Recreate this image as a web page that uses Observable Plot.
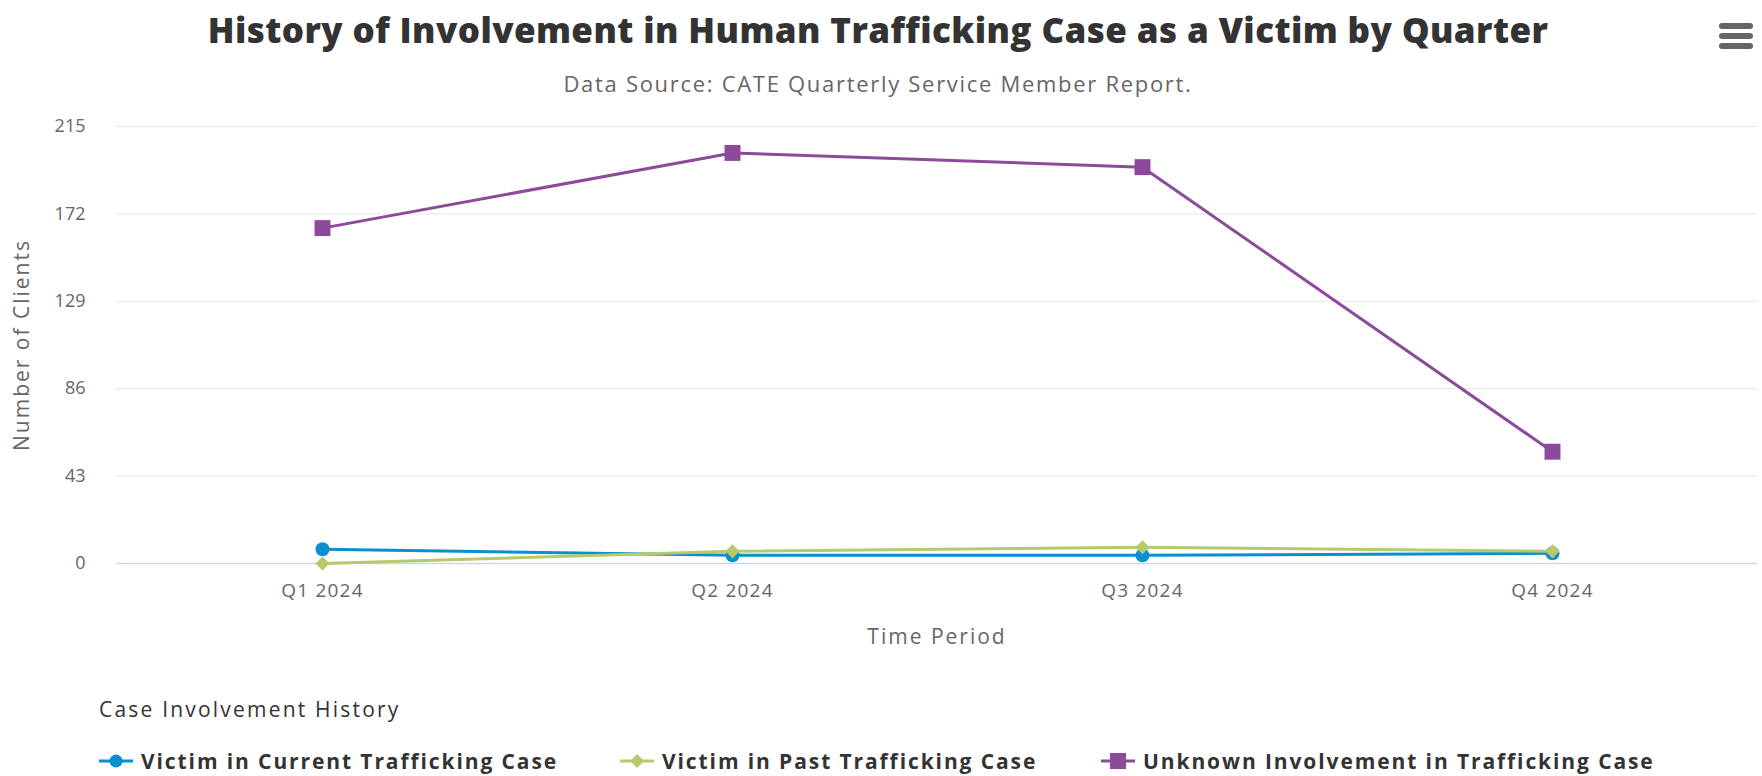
<!DOCTYPE html>
<html>
<head>
<meta charset="utf-8">
<script src="https://cdn.jsdelivr.net/npm/d3@7"></script>
<script src="https://cdn.jsdelivr.net/npm/@observablehq/plot@0.6"></script>
<style>
  html, body { margin: 0; padding: 0; background: #fff; }
  body { width: 1762px; height: 776px; position: relative; overflow: hidden; font-family: "Open Sans", "DejaVu Sans", sans-serif; }
  #chart { position: absolute; left: 0; top: 0; }
  .abs { position: absolute; white-space: nowrap; }
  #title { left: 0; width: 1756px; top: 8px; text-align: center; font-size: 35px; font-weight: 800; color: #333; line-height: 44px; letter-spacing: 0.4px; }
  #subtitle { left: 0; width: 1756px; top: 69px; text-align: center; font-size: 22px; color: #666; line-height: 28px; letter-spacing: 1.7px; }
  #legendTitle { left: 99px; top: 695px; font-size: 21px; color: #333; line-height: 28px; letter-spacing: 2.2px; }
  .item { top: 747px; font-size: 21px; font-weight: 700; color: #333; line-height: 28px; display: flex; align-items: center; letter-spacing: 1.9px; }
  .item svg { margin-right: 8px; }
  #menu { left: 1719px; top: 23px; width: 34px; }
  #menu div { height: 6px; border-radius: 3px; background: #666; margin-bottom: 4px; }
  g[aria-label="x-axis tick label"] text { letter-spacing: 1.2px; }
  g[aria-label="text"] text { letter-spacing: 2px; }
</style>
</head>
<body>
<div id="chart"></div>
<div id="title" class="abs">History of Involvement in Human Trafficking Case as a Victim by Quarter</div>
<div id="subtitle" class="abs">Data Source: CATE Quarterly Service Member Report.</div>
<div id="menu" class="abs"><div></div><div></div><div></div></div>
<div id="legendTitle" class="abs">Case Involvement History</div>
<div id="legend"></div>
<script>
const quarters = ["Q1 2024", "Q2 2024", "Q3 2024", "Q4 2024"];
const seriesNames = ["Victim in Current Trafficking Case", "Victim in Past Trafficking Case", "Unknown Involvement in Trafficking Case"];
const currentCase = [7, 4, 4, 5];
const pastCase = [0, 6, 8, 6];
const unknownCase = [165, 202, 195, 55];
const yTicks = [0, 43, 86, 129, 172, 215];
const colors = ["#0a8fd0", "#b6ca6b", "#8d4a9b"];
const symbols = ["circle", "diamond2", "square"];

const seriesValues = [currentCase, pastCase, unknownCase];
const data = [];
seriesNames.forEach((s, i) => quarters.forEach((q, j) => data.push({series: s, quarter: q, value: seriesValues[i][j]})));

const seriesMarks = [];
const radii = [7, 6.4, 9];
seriesNames.forEach((s, i) => {
  const rows = data.filter(d => d.series === s);
  seriesMarks.push(Plot.line(rows, {x: "quarter", y: "value", stroke: "series", strokeWidth: 3}));
  seriesMarks.push(Plot.dot(rows, {x: "quarter", y: "value", fill: "series", symbol: () => symbols[i], r: radii[i], stroke: "none"}));
});

const chart = Plot.plot({
  width: 1762,
  height: 660,
  marginTop: 126,
  marginBottom: 97,
  marginLeft: 116,
  marginRight: 5,
  style: {fontFamily: "'Open Sans', 'DejaVu Sans', sans-serif", background: "transparent"},
  x: {type: "point", domain: quarters, padding: 0.5, axis: null},
  y: {domain: [0, 215], axis: null},
  color: {domain: seriesNames, range: colors},
  symbol: {type: "identity"},
  marks: [
    Plot.gridY(yTicks, {stroke: "#e6e6e6", strokeOpacity: 1, strokeWidth: 1}),
    Plot.ruleY([0], {stroke: "#ccd6eb", strokeWidth: 1.5}),
    Plot.axisY(yTicks, {tickSize: 0, tickPadding: 31, fontSize: 18, color: "#666", label: null}),
    Plot.axisX({tickSize: 0, tickPadding: 20, fontSize: 19, color: "#666", label: null}),
    ...seriesMarks,
    Plot.text(["Time Period"], {frameAnchor: "bottom", dy: 74, text: d => d, fontSize: 21, fill: "#666", textAnchor: "middle", lineAnchor: "middle"}),
    Plot.text(["Number of Clients"], {frameAnchor: "left", dx: -94, text: d => d, rotate: -90, fontSize: 21, fill: "#666", textAnchor: "middle", lineAnchor: "middle"})
  ]
});
document.getElementById("chart").appendChild(chart);

// Legend
const legendX = [99, 620, 1101];
const legend = document.getElementById("legend");
seriesNames.forEach((s, i) => {
  const item = document.createElement("div");
  item.className = "abs item";
  item.style.left = legendX[i] + "px";
  let marker;
  if (symbols[i] === "circle") marker = `<circle cx="17" cy="10" r="6.5" fill="${colors[i]}"/>`;
  else if (symbols[i] === "diamond2") marker = `<path d="M17,3 L24,10 L17,17 L10,10 Z" fill="${colors[i]}"/>`;
  else marker = `<rect x="9" y="2" width="16" height="16" fill="${colors[i]}"/>`;
  item.innerHTML = `<svg width="34" height="20"><line x1="0" y1="10" x2="34" y2="10" stroke="${colors[i]}" stroke-width="3"/>${marker}</svg><span>${s}</span>`;
  legend.appendChild(item);
});
</script>
</body>
</html>
